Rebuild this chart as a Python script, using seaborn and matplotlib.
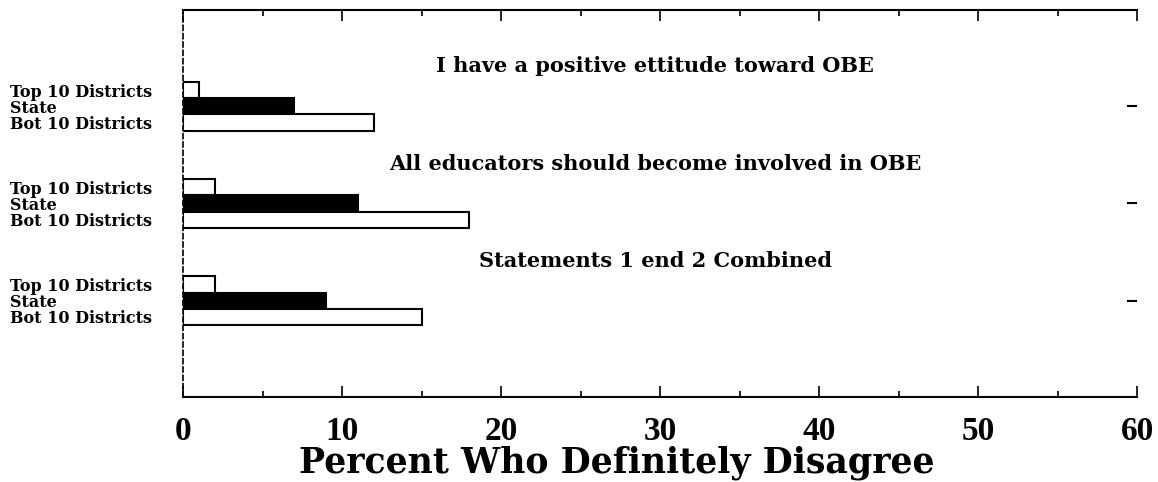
import matplotlib.pyplot as plt
from matplotlib.ticker import MultipleLocator
import pandas as pd
import seaborn as sns


statements = ['I have a positive ettitude toward OBE',
              'All educators should become involved in OBE',
              'Statements 1 end 2 Combined']
groups = ['Top 10 Districts', 'State', 'Bot 10 Districts']
top10 = [1, 2, 2]
state = [7, 11, 9]
bot10 = [12, 18, 15]
x_ticks = [0, 10, 20, 30, 40, 50, 60]

df = pd.DataFrame({
    'statement': statements * 3,
    'group': [g for g in groups for _ in statements],
    'percent': top10 + state + bot10,
})

sns.set_style('white')
plt.rcParams['font.family'] = ['DejaVu Serif']
plt.rcParams.update({'text.color': 'black', 'axes.edgecolor': 'black',
                     'axes.labelcolor': 'black', 'xtick.color': 'black',
                     'ytick.color': 'black'})

fig = plt.figure(figsize=(11.58, 4.82), dpi=100)
ax = fig.add_axes([183 / 1158, 1 - 397 / 482, (1137 - 183) / 1158, 387 / 482])

sns.barplot(df, x='percent', y='statement', hue='group', order=statements,
            hue_order=groups, palette={'Top 10 Districts': 'white', 'State': 'black',
                                       'Bot 10 Districts': 'white'},
            edgecolor='black', linewidth=1.5, width=0.5, dodge=True,
            orient='h', errorbar=None, legend=False, ax=ax)

ax.set_xlim(0, 60)
ax.set_ylim(2.99, -0.99)

# statement headings above each group
for i, s in enumerate(statements):
    ax.text(29.7, i - 0.41, s, ha='center', va='center', fontsize=15,
            fontweight='bold', family='DejaVu Serif')

# one tick label per bar, left aligned at the figure edge
centers = sorted(p.get_y() + p.get_height() / 2 for p in ax.patches)
ax.yaxis.remove_overlapping_locs = False
ax.set_yticks(centers, groups * len(statements))
ax.set_yticks(centers[1::3], minor=True)
for lbl in ax.get_yticklabels():
    lbl.set_ha('left')
    lbl.set_fontsize(11.5)
    lbl.set_fontweight('bold')
ax.tick_params(axis='y', which='major', left=False, right=False, length=0, pad=124.5)
ax.tick_params(axis='y', which='minor', left=False, right=True, direction='in',
               length=7, width=1.5)
ax.set_ylabel('')

ax.xaxis.set_major_locator(MultipleLocator(10))
ax.xaxis.set_minor_locator(MultipleLocator(5))
ax.set_xticks(x_ticks, [str(t) for t in x_ticks])
ax.tick_params(axis='x', which='both', top=True, bottom=True, direction='in', width=1.2)
ax.tick_params(axis='x', which='major', length=8, pad=14)
ax.tick_params(axis='x', which='minor', length=4)
for lbl in ax.get_xticklabels():
    lbl.set_family('Liberation Serif')
    lbl.set_fontweight('bold')
    lbl.set_fontsize(24)

ax.set_xlabel('Percent Who Definitely Disagree', fontsize=25, fontweight='bold')
ax.xaxis.set_label_coords(0.455, -0.126)

for side in ['top', 'bottom']:
    ax.spines[side].set_linewidth(1.5)
ax.spines['left'].set_linewidth(1.2)
ax.spines['left'].set_linestyle((0, (3, 2)))
ax.spines['right'].set_visible(False)

fig.savefig('out.png', dpi=100, facecolor='white')
